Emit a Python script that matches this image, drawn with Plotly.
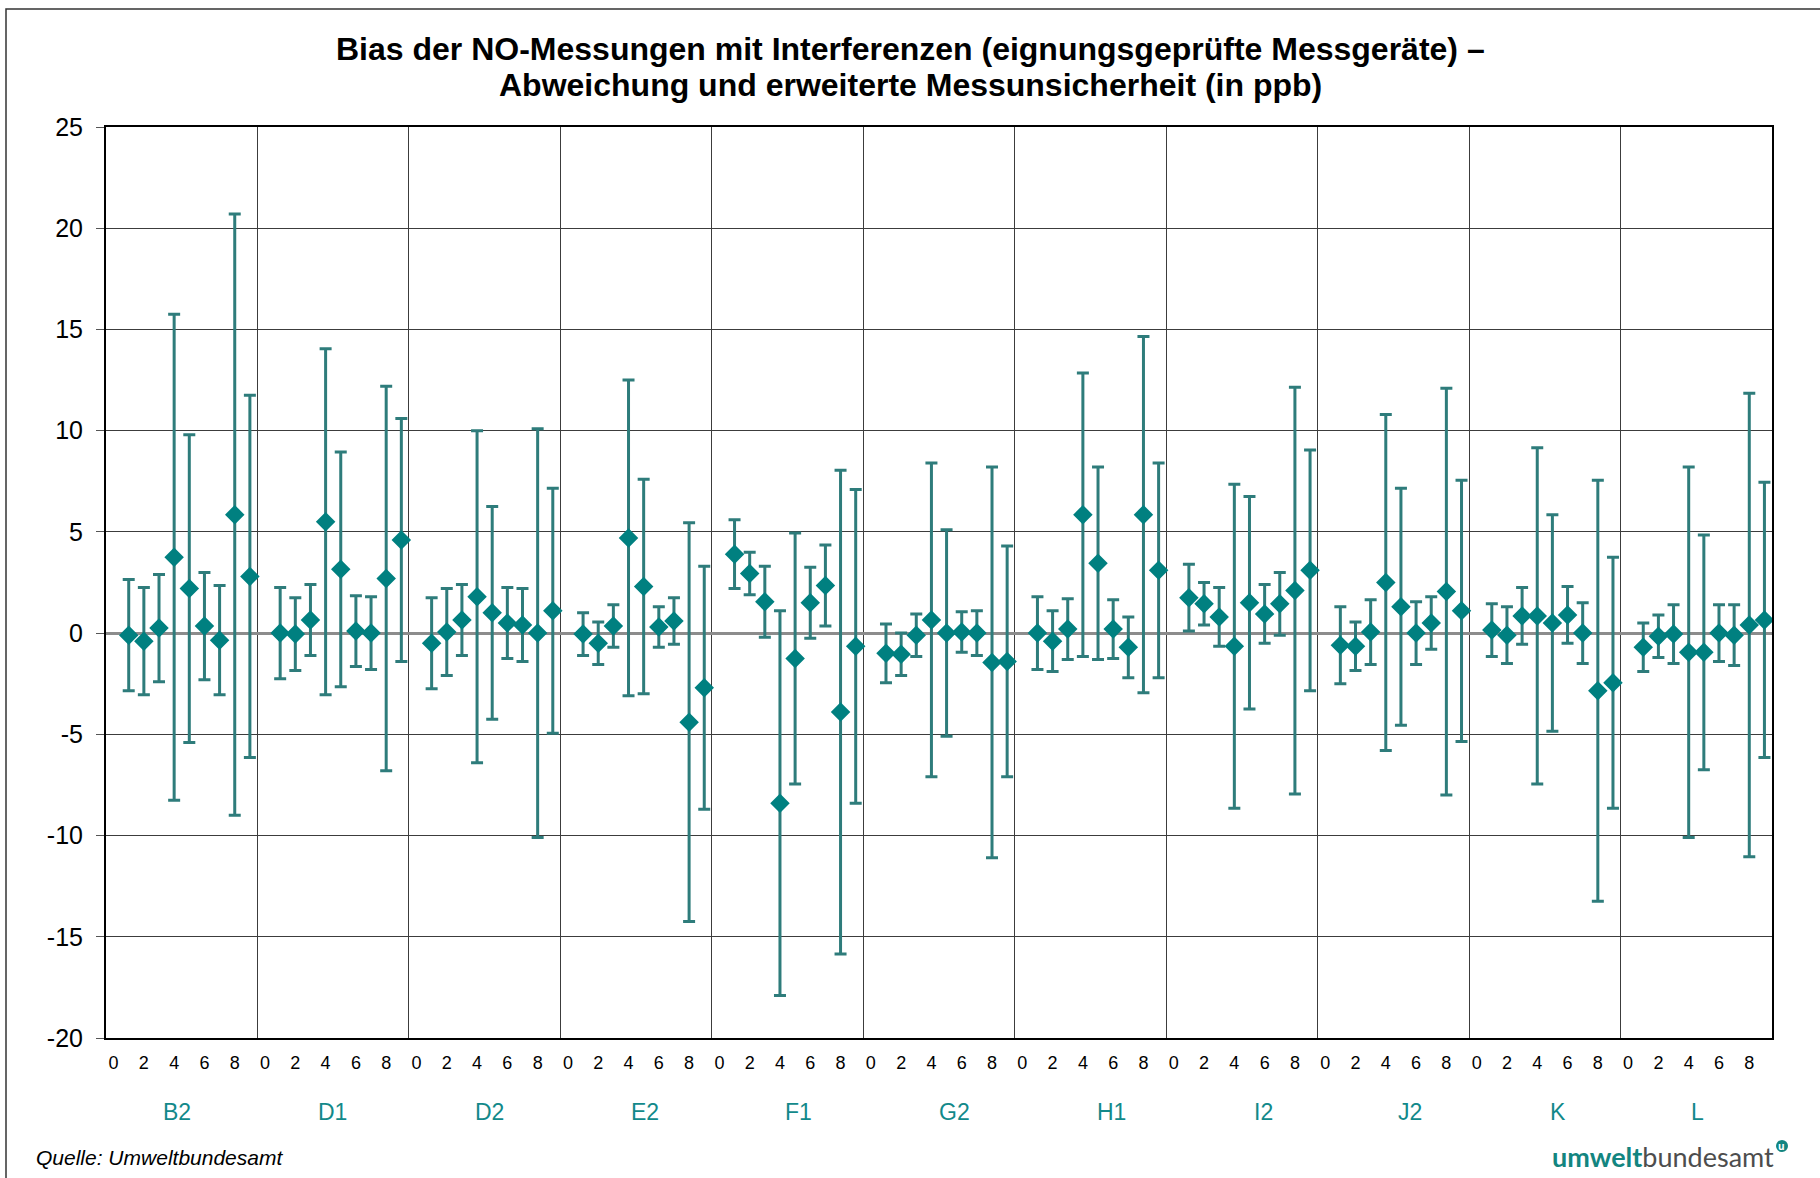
import plotly.graph_objects as go

# Colors
TEAL = "#008080"
ERR_COLOR = "#2e7c7b"
LABEL_TEAL = "#12898a"
GRID = "#3c3c3c"
FONT = "Liberation Sans, Arial, sans-serif"

GROUPS = ["B2", "D1", "D2", "E2", "F1", "G2", "H1", "I2", "J2", "K", "L"]
POSITIONS = [1, 2, 3, 4, 5, 6, 7, 8, 9]
TICK_POS = [0, 2, 4, 6, 8]
TICK_LABELS = ["0", "2", "4", "6", "8"]
Y_TICKS = [-20, -15, -10, -5, 0, 5, 10, 15, 20, 25]
Y_TICK_LABELS = ["-20", "-15", "-10", "-5", "0", "5", "10", "15", "20", "25"]

# bias (ppb) per group, position 1..9
BIAS = [
    [-0.1, -0.4, 0.25, 3.75, 2.2, 0.35, -0.35, 5.85, 2.8],      # B2
    [0.0, -0.05, 0.65, 5.5, 3.15, 0.1, 0.0, 2.7, 4.6],          # D1
    [-0.5, 0.05, 0.65, 1.8, 1.0, 0.5, 0.4, 0.0, 1.1],           # D2
    [-0.05, -0.5, 0.35, 4.7, 2.3, 0.3, 0.6, -4.4, -2.7],        # E2
    [3.9, 2.95, 1.55, -8.4, -1.25, 1.5, 2.35, -3.9, -0.65],     # F1
    [-1.0, -1.05, -0.1, 0.65, 0.0, 0.05, 0.0, -1.45, -1.4],     # G2
    [0.0, -0.4, 0.2, 5.85, 3.45, 0.2, -0.7, 5.85, 3.1],         # H1
    [1.75, 1.45, 0.8, -0.65, 1.5, 0.95, 1.45, 2.1, 3.1],        # I2
    [-0.6, -0.65, 0.05, 2.5, 1.3, 0.0, 0.5, 2.05, 1.1],         # J2
    [0.15, -0.1, 0.85, 0.85, 0.5, 0.9, 0.0, -2.85, -2.45],      # K
    [-0.7, -0.15, -0.05, -0.95, -0.95, 0.0, -0.1, 0.4, 0.65],   # L
]

# expanded measurement uncertainty (ppb)
UNCERT = [
    [2.75, 2.65, 2.65, 12.0, 7.6, 2.65, 2.7, 14.85, 8.95],      # B2
    [2.25, 1.8, 1.75, 8.55, 5.8, 1.75, 1.8, 9.5, 6.0],          # D1
    [2.25, 2.15, 1.75, 8.2, 5.25, 1.75, 1.8, 10.1, 6.05],       # D2
    [1.05, 1.05, 1.05, 7.8, 5.3, 1.0, 1.15, 9.85, 6.0],         # E2
    [1.7, 1.05, 1.75, 9.5, 6.2, 1.75, 2.0, 11.95, 7.75],        # F1
    [1.45, 1.05, 1.05, 7.75, 5.1, 1.0, 1.1, 9.65, 5.7],         # G2
    [1.8, 1.5, 1.5, 7.0, 4.75, 1.45, 1.5, 8.8, 5.3],            # H1
    [1.65, 1.05, 1.45, 8.0, 5.25, 1.45, 1.55, 10.05, 5.95],     # I2
    [1.9, 1.2, 1.6, 8.3, 5.85, 1.55, 1.3, 10.05, 6.45],         # J2
    [1.3, 1.4, 1.4, 8.3, 5.35, 1.4, 1.5, 10.4, 6.2],            # K
    [1.2, 1.05, 1.45, 9.15, 5.8, 1.4, 1.5, 11.45, 6.8],         # L
]

N_SLOTS = 10  # category slots per group
# where the group name sits inside its block (slot units, as in the original)
LABEL_OFFSET = [4.17, 4.44, 4.79, 5.06, 5.25, 5.52, 5.86, 5.9, 5.63, 5.36, 4.56]

x_vals, y_vals, e_vals = [], [], []
for g, name in enumerate(GROUPS):
    for k, pos in enumerate(POSITIONS):
        x_vals.append(g * N_SLOTS + pos)
        y_vals.append(BIAS[g][k])
        e_vals.append(UNCERT[g][k])

tickvals = [g * N_SLOTS + p for g in range(len(GROUPS)) for p in TICK_POS]
ticktext = [t for g in range(len(GROUPS)) for t in TICK_LABELS]

fig = go.Figure(go.Scatter(
    x=x_vals, y=y_vals, mode="markers",
    marker=dict(symbol="diamond", size=15, color=TEAL),
    error_y=dict(type="data", array=e_vals, visible=True,
                 color=ERR_COLOR, thickness=3, width=6),
    showlegend=False, hoverinfo="x+y",
))

# page geometry (px)
W, H = 1820, 1178
L, R, T, B = 106, 48, 127, 140
pw, ph = W - L - R, H - T - B


def px(xp):
    return (xp - L) / pw


def py(yp):
    return (H - B - yp) / ph


annotations = []
for g, name in enumerate(GROUPS):
    annotations.append(dict(
        x=g * N_SLOTS + LABEL_OFFSET[g], xref="x", y=py(1112), yref="paper",
        text=name, showarrow=False, xanchor="center", yanchor="middle",
        font=dict(size=23, color=LABEL_TEAL, family=FONT)))

annotations += [
    dict(x=px(910), y=py(49), xref="paper", yref="paper", showarrow=False,
         xanchor="center", yanchor="middle",
         text="<b>Bias der NO-Messungen mit Interferenzen (eignungsgeprüfte Messgeräte) –</b>",
         font=dict(size=32, color="black", family=FONT)),
    dict(x=px(910), y=py(85), xref="paper", yref="paper", showarrow=False,
         xanchor="center", yanchor="middle",
         text="<b>Abweichung und erweiterte Messunsicherheit (in ppb)</b>",
         font=dict(size=32, color="black", family=FONT)),
    dict(x=px(34), y=py(1157), xref="paper", yref="paper", showarrow=False,
         xanchor="left", yanchor="middle", text="<i>Quelle: Umweltbundesamt</i>",
         font=dict(size=21, color="black", family=FONT)),
    dict(x=px(1776), y=py(1156), xref="paper", yref="paper", showarrow=False,
         xanchor="right", yanchor="middle",
         text="<b>umwelt</b><span style='color:#4d4d4d'>bundesamt</span>",
         font=dict(size=27, color="#138580", family="Lato, sans-serif")),
    dict(x=px(1782), y=py(1146), xref="paper", yref="paper", showarrow=False,
         xanchor="center", yanchor="middle", text="<b>u</b>",
         font=dict(size=10, color="white", family="Open Sans, sans-serif")),
]

shapes = [
    # outer chart frame
    dict(type="rect", xref="paper", yref="paper", x0=px(6), y0=py(9), x1=px(1840), y1=py(1200),
         line=dict(color="#333333", width=1.5), layer="below"),
    # logo dot
    dict(type="circle", xref="paper", yref="paper",
         x0=px(1776), x1=px(1788), y0=py(1140), y1=py(1152),
         fillcolor="#138580", line=dict(width=0)),
]

fig.update_layout(
    width=W, height=H,
    margin=dict(l=L, r=R, t=T, b=B),
    paper_bgcolor="white", plot_bgcolor="white",
    font=dict(family=FONT, color="black"),
    annotations=annotations, shapes=shapes,
    xaxis=dict(
        range=[-0.5, len(GROUPS) * N_SLOTS - 0.5],
        tickmode="array", tickvals=tickvals, ticktext=ticktext,
        tickfont=dict(size=18), ticks="", ticklabelstandoff=7,
        showgrid=False, zeroline=False,
        showline=True, mirror=True, linecolor="black", linewidth=2,
        minor=dict(tick0=-0.5, dtick=N_SLOTS, showgrid=True,
                   gridcolor=GRID, gridwidth=1, ticks=""),
    ),
    yaxis=dict(
        range=[-20, 25], tickmode="array", tickvals=Y_TICKS, ticktext=Y_TICK_LABELS,
        tickfont=dict(size=25), ticks="outside", ticklen=8,
        tickcolor="#555555", tickwidth=1, ticklabelstandoff=8,
        showgrid=True, gridcolor=GRID, gridwidth=1,
        zeroline=True, zerolinecolor="#8c8c8c", zerolinewidth=3,
        showline=True, mirror=True, linecolor="black", linewidth=2,
    ),
)

fig.write_html("out.html", config={"displayModeBar": False},
               post_script="document.body.style.margin='0';")
